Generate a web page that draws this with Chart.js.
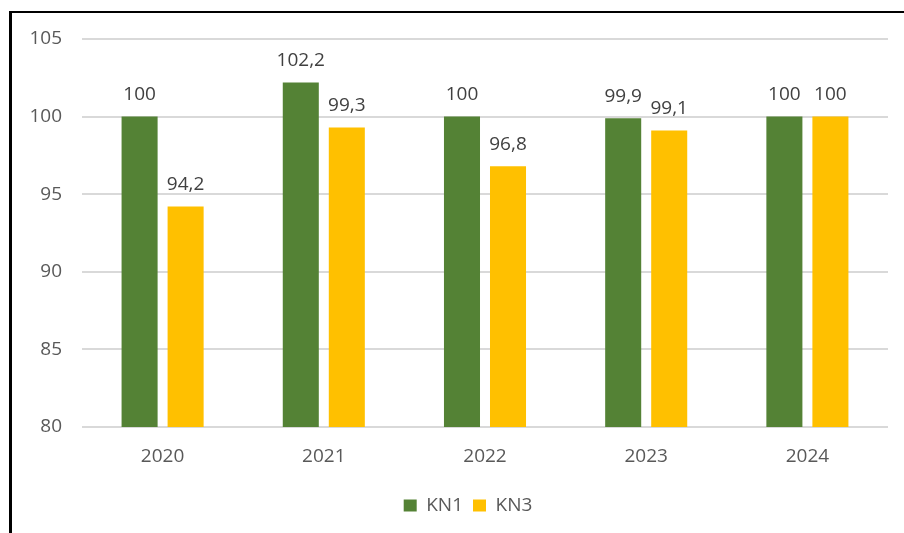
<!DOCTYPE html>
<html>
<head>
<meta charset="utf-8">
<script src="https://cdn.jsdelivr.net/npm/chart.js@4.4.1/dist/chart.umd.min.js"></script>
<style>
  html, body { margin: 0; padding: 0; background: #fff; }
  #wrap { position: relative; width: 904px; height: 533px; }
  #frame { position: absolute; left: 9px; top: 11px; right: 0; bottom: 0;
           border-left: 3px solid #000; border-top: 2px solid #000; pointer-events: none; }
</style>
</head>
<body>
<div id="wrap">
  <canvas id="chart" width="904" height="533"></canvas>
  <div id="frame"></div>
</div>
<script>
const YEARS = ["2020", "2021", "2022", "2023", "2024"];
const KN1 = [100, 102.2, 100, 99.9, 100];
const KN3 = [94.2, 99.3, 96.8, 99.1, 100];
const Y_MIN = 80;
const Y_MAX = 105;
const Y_STEP = 5;

const COLORS = { kn1: "#548235", kn3: "#FFC000", grid: "#d9d9d9", text: "#595959", label: "#404040" };
const FONT = "'Open Sans', 'Liberation Sans', sans-serif";

// labels above bars, comma decimals like the original
const barLabels = {
    id: "barLabels",
    afterDatasetsDraw(chart) {
        const ctx = chart.ctx;
        ctx.save();
        ctx.font = `19px ${FONT}`;
        ctx.fillStyle = COLORS.label;
        ctx.textAlign = "center";
        ctx.textBaseline = "middle";
        chart.data.datasets.forEach((ds, i) => {
            chart.getDatasetMeta(i).data.forEach((bar, j) => {
                const txt = String(ds.data[j]).replace(".", ",");
                ctx.fillText(txt, bar.x, bar.y - 22);
            });
        });
        ctx.restore();
    }
};

// legend sits centred under the plot area, not the whole canvas
const legendShift = {
    id: "legendShift",
    afterLayout(chart) {
        const lg = chart.legend;
        if (!lg) return;
        const dx = 24;
        lg.left += dx;
        lg.right += dx;
        (lg.legendHitBoxes || []).forEach(h => { h.left += dx; });
    }
};

new Chart(document.getElementById("chart"), {
    type: "bar",
    data: {
        labels: YEARS,
        datasets: [
            { label: "KN1", data: KN1, backgroundColor: COLORS.kn1 },
            { label: "KN3", data: KN3, backgroundColor: COLORS.kn3 }
        ]
    },
    options: {
        responsive: false,
        animation: false,
        categoryPercentage: 0.571,
        barPercentage: 0.783,
        layout: { padding: { top: 39, right: 16, bottom: 8, left: 0 } },
        plugins: {
            legend: {
                position: "bottom",
                labels: { color: COLORS.text, font: { family: FONT, size: 19 }, boxWidth: 13, boxHeight: 12, padding: 10 }
            },
            tooltip: { enabled: false }
        },
        scales: {
            x: {
                grid: { display: false },
                border: { display: false },
                ticks: { color: COLORS.text, font: { family: FONT, size: 19 }, padding: 10 },
                afterFit: (s) => { s.height = 59; }
            },
            y: {
                min: Y_MIN,
                max: Y_MAX,
                grid: { color: COLORS.grid, lineWidth: 2, drawTicks: false },
                border: { display: false },
                ticks: { stepSize: Y_STEP, color: COLORS.text, font: { family: FONT, size: 19 }, padding: 20 },
                afterFit: (s) => { s.width = 82; }
            }
        }
    },
    plugins: [barLabels, legendShift]
});
</script>
</body>
</html>
